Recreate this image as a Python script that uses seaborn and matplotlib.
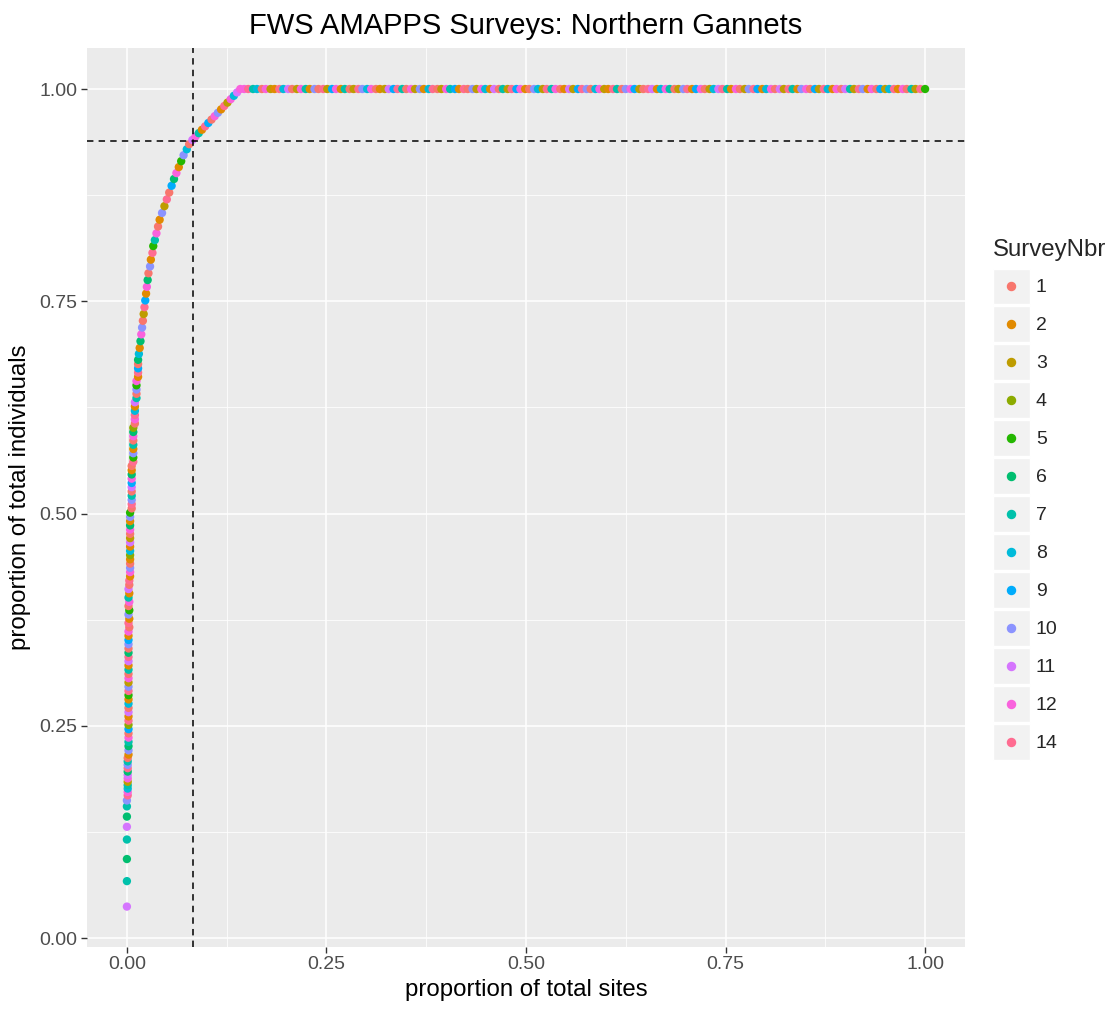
import matplotlib
matplotlib.use("Agg")
import matplotlib.pyplot as plt
from matplotlib.patches import Rectangle
from matplotlib.lines import Line2D
from matplotlib.legend_handler import HandlerTuple, HandlerLine2D
from matplotlib.ticker import MultipleLocator
import pandas as pd
import seaborn as sns

# survey levels and their ggplot hue colours
surveys = ["1", "2", "3", "4", "5", "6", "7", "8", "9", "10", "11", "12", "14"]
survey_colors = ["#F8766D", "#E18A00", "#BE9C00", "#8CAB00", "#24B700", "#00BE70", "#00C1AB",
                 "#00BBDA", "#00ACFC", "#8B93FF", "#D575FE", "#F962DD", "#FF6C91"]

# sparse low tail at x = 0
tail_x = [0.000, 0.000, 0.000, 0.000, 0.000, 0.000, 0.000, 0.000]
tail_y = [0.037, 0.067, 0.093, 0.116, 0.131, 0.143, 0.155, 0.162]
tail_s = [11, 7, 6, 7, 11, 6, 7, 10]

# steep rise near x = 0
rise_x = [0.001, 0.001, 0.001, 0.001, 0.001, 0.001, 0.001, 0.001, 0.001, 0.001, 0.001, 0.001,
          0.002, 0.002, 0.002, 0.002, 0.002, 0.002, 0.002, 0.002, 0.002, 0.002,
          0.002, 0.002, 0.002, 0.002, 0.002, 0.002, 0.002, 0.002, 0.002, 0.002,
          0.002, 0.002, 0.002, 0.002, 0.002, 0.002, 0.002, 0.002, 0.002, 0.002,
          0.003, 0.002, 0.003, 0.002, 0.003, 0.002, 0.003, 0.002, 0.003, 0.002,
          0.003, 0.003,
          0.004, 0.004, 0.004, 0.004, 0.004, 0.004, 0.004, 0.004, 0.004, 0.004, 0.004, 0.004, 0.004, 0.004, 0.004, 0.004,
          0.006, 0.006, 0.006, 0.006, 0.006, 0.006, 0.006, 0.006, 0.006, 0.006, 0.006,
          0.008, 0.008, 0.008, 0.008, 0.008, 0.008, 0.008, 0.008, 0.008,
          0.010, 0.010, 0.010, 0.010, 0.010, 0.010,
          0.012, 0.012, 0.012, 0.012, 0.012,
          0.014, 0.014, 0.014, 0.014, 0.014]
rise_y = [0.168, 0.172, 0.176, 0.180, 0.184, 0.188, 0.192, 0.196, 0.200, 0.204, 0.208, 0.212,
          0.216, 0.221, 0.226, 0.231, 0.236, 0.241, 0.246, 0.251, 0.256, 0.261,
          0.266, 0.271, 0.276, 0.281, 0.286, 0.291, 0.296, 0.301, 0.306, 0.311,
          0.316, 0.321, 0.326, 0.331, 0.336, 0.341, 0.346, 0.351, 0.356, 0.361,
          0.366, 0.371, 0.376, 0.381, 0.386, 0.391, 0.396, 0.401, 0.406, 0.411,
          0.416, 0.421,
          0.426, 0.431, 0.436, 0.441, 0.446, 0.451, 0.456, 0.461, 0.466, 0.471, 0.476, 0.481, 0.486, 0.491, 0.496, 0.501,
          0.506, 0.511, 0.516, 0.521, 0.526, 0.531, 0.536, 0.541, 0.546, 0.551, 0.556,
          0.561, 0.566, 0.571, 0.576, 0.581, 0.586, 0.591, 0.596, 0.601,
          0.606, 0.611, 0.616, 0.621, 0.626, 0.631,
          0.636, 0.641, 0.646, 0.651, 0.656,
          0.661, 0.666, 0.671, 0.676, 0.681]
rise_s = [14, 12, 8, 7, 3, 12, 11, 6, 14, 10, 7, 1,
          2, 10, 6, 7, 12, 1, 9, 4, 14, 2,
          11, 1, 8, 2, 5, 14, 10, 3, 12, 1,
          7, 2, 11, 14, 6, 1, 10, 9, 2, 12,
          1, 14, 2, 10, 5, 1, 12, 7, 2, 11,
          1, 14,
          2, 12, 10, 1, 2, 4, 8, 2, 11, 3, 1, 12, 6, 2, 10, 5,
          1, 14, 10, 7, 1, 11, 9, 12, 6, 2, 1,
          14, 5, 10, 2, 7, 1, 12, 6, 4,
          1, 12, 14, 8, 2, 11,
          7, 1, 10, 5, 12,
          2, 14, 9, 1, 6]

# bend towards the plateau
bend_x = [0.015, 0.016, 0.017, 0.018, 0.019, 0.020, 0.021, 0.022, 0.023, 0.024,
          0.025, 0.026, 0.027, 0.029, 0.030, 0.032, 0.033, 0.035, 0.037, 0.039,
          0.041, 0.044, 0.047, 0.050, 0.053, 0.056, 0.059, 0.062, 0.065, 0.068,
          0.071, 0.075, 0.078, 0.082, 0.086, 0.090, 0.094, 0.098, 0.102, 0.106,
          0.110, 0.114, 0.118, 0.122, 0.126, 0.130, 0.134, 0.138, 0.142]
bend_y = [0.688, 0.695, 0.703, 0.711, 0.719, 0.727, 0.735, 0.743, 0.751, 0.759,
          0.767, 0.775, 0.783, 0.791, 0.799, 0.807, 0.815, 0.822, 0.830, 0.838,
          0.846, 0.854, 0.862, 0.870, 0.878, 0.886, 0.894, 0.901, 0.908, 0.915,
          0.922, 0.929, 0.935, 0.940, 0.944, 0.948, 0.952, 0.956, 0.960, 0.964,
          0.968, 0.972, 0.976, 0.980, 0.984, 0.988, 0.992, 0.996, 1.000]
bend_s = [8, 2, 6, 12, 10, 1, 3, 14, 9, 2,
          12, 6, 1, 10, 2, 14, 5, 7, 12, 1,
          2, 10, 3, 14, 1, 9, 6, 12, 2, 5,
          10, 8, 1, 11, 12, 7, 2, 14, 9, 1,
          12, 10, 2, 14, 3, 12, 8, 11, 12]

# plateau at 1.00
top_x = [0.147, 0.152, 0.158, 0.163, 0.169, 0.174, 0.180, 0.185, 0.191, 0.196,
         0.202, 0.207, 0.213, 0.218, 0.224, 0.229, 0.235, 0.240, 0.246, 0.251,
         0.257, 0.262, 0.268, 0.273, 0.279, 0.284, 0.290, 0.295, 0.301, 0.306,
         0.312, 0.317, 0.323, 0.328, 0.334, 0.339, 0.345, 0.350, 0.356, 0.361,
         0.367, 0.372, 0.378, 0.383, 0.389, 0.394, 0.400, 0.405, 0.411, 0.416,
         0.422, 0.427, 0.433, 0.438, 0.444, 0.449, 0.455, 0.460, 0.466, 0.471,
         0.477, 0.482, 0.488, 0.493, 0.499, 0.504, 0.510, 0.515, 0.521, 0.526,
         0.532, 0.537, 0.543, 0.548, 0.554, 0.559, 0.565, 0.570, 0.576, 0.581,
         0.587, 0.592, 0.598, 0.603, 0.609, 0.614, 0.620, 0.625, 0.631, 0.636,
         0.642, 0.647, 0.653, 0.658, 0.664, 0.669, 0.675, 0.680, 0.686, 0.691,
         0.697, 0.702, 0.708, 0.713, 0.719, 0.724, 0.730, 0.735, 0.741, 0.746,
         0.752, 0.757, 0.763, 0.768, 0.774, 0.779, 0.785, 0.790, 0.796, 0.801,
         0.807, 0.812, 0.818, 0.823, 0.829, 0.834, 0.840, 0.845, 0.851, 0.856,
         0.862, 0.867, 0.873, 0.878, 0.884, 0.889, 0.895, 0.900, 0.906, 0.911,
         0.917, 0.922, 0.928, 0.933, 0.939, 0.944, 0.950, 0.955, 0.961, 0.966,
         0.972, 0.977, 0.983, 0.988, 0.994, 1.000]
top_y = [1.0, 1.0, 1.0, 1.0, 1.0, 1.0, 1.0, 1.0, 1.0, 1.0,
         1.0, 1.0, 1.0, 1.0, 1.0, 1.0, 1.0, 1.0, 1.0, 1.0,
         1.0, 1.0, 1.0, 1.0, 1.0, 1.0, 1.0, 1.0, 1.0, 1.0,
         1.0, 1.0, 1.0, 1.0, 1.0, 1.0, 1.0, 1.0, 1.0, 1.0,
         1.0, 1.0, 1.0, 1.0, 1.0, 1.0, 1.0, 1.0, 1.0, 1.0,
         1.0, 1.0, 1.0, 1.0, 1.0, 1.0, 1.0, 1.0, 1.0, 1.0,
         1.0, 1.0, 1.0, 1.0, 1.0, 1.0, 1.0, 1.0, 1.0, 1.0,
         1.0, 1.0, 1.0, 1.0, 1.0, 1.0, 1.0, 1.0, 1.0, 1.0,
         1.0, 1.0, 1.0, 1.0, 1.0, 1.0, 1.0, 1.0, 1.0, 1.0,
         1.0, 1.0, 1.0, 1.0, 1.0, 1.0, 1.0, 1.0, 1.0, 1.0,
         1.0, 1.0, 1.0, 1.0, 1.0, 1.0, 1.0, 1.0, 1.0, 1.0,
         1.0, 1.0, 1.0, 1.0, 1.0, 1.0, 1.0, 1.0, 1.0, 1.0,
         1.0, 1.0, 1.0, 1.0, 1.0, 1.0, 1.0, 1.0, 1.0, 1.0,
         1.0, 1.0, 1.0, 1.0, 1.0, 1.0, 1.0, 1.0, 1.0, 1.0,
         1.0, 1.0, 1.0, 1.0, 1.0, 1.0, 1.0, 1.0, 1.0, 1.0,
         1.0, 1.0, 1.0, 1.0, 1.0, 1.0]
top_s = [12, 14, 7, 8, 1, 12, 3, 2, 14, 8,
         11, 1, 3, 12, 7, 2, 10, 1, 14, 3,
         9, 12, 2, 7, 1, 3, 14, 10, 8, 12,
         1, 2, 3, 11, 9, 14, 7, 1, 12, 3,
         10, 2, 8, 14, 1, 3, 12, 7, 9, 2,
         14, 1, 10, 3, 12, 8, 2, 11, 1, 7,
         3, 14, 9, 12, 2, 1, 10, 8, 3, 14,
         7, 12, 1, 2, 11, 3, 9, 14, 10, 1,
         8, 12, 3, 2, 14, 7, 1, 10, 12, 9,
         3, 1, 14, 11, 2, 8, 12, 7, 1, 3,
         10, 14, 2, 9, 12, 1, 3, 8, 11, 14,
         7, 2, 12, 1, 3, 10, 14, 9, 2, 8,
         12, 1, 11, 3, 14, 7, 2, 10, 12, 1,
         9, 3, 14, 8, 2, 12, 1, 11, 7, 3,
         14, 10, 2, 12, 1, 9, 3, 8, 14, 2,
         12, 1, 7, 3, 14, 5]

# reference lines
cut_sites = 0.0826
cut_indiv = 0.939

df = pd.DataFrame({
    "site_prop": tail_x + rise_x + bend_x + top_x,
    "indiv_prop": tail_y + rise_y + bend_y + top_y,
    "SurveyNbr": [str(s) for s in tail_s + rise_s + bend_s + top_s],
})
palette = dict(zip(surveys, survey_colors))


class CenteredDot(HandlerLine2D):
    # put the legend dot in the middle of the grey key box
    def create_artists(self, legend, orig_handle, xdescent, ydescent, width, height, fontsize, trans):
        artists = super().create_artists(legend, orig_handle, xdescent, ydescent,
                                         width, height, fontsize, trans)
        for a in artists:
            a.set_ydata([height / 2 - ydescent] * len(a.get_ydata()))
        return artists


sns.set_theme(style="darkgrid")
plt.rcParams["font.family"] = ["Liberation Sans", "DejaVu Sans"]

W, H = 1107, 1010
fig = plt.figure(figsize=(W / 100, H / 100), dpi=100)
ax = fig.add_axes([87 / W, 1 - 947 / H, (965 - 87) / W, (947 - 48) / H])
ax.set_facecolor("#EBEBEB")

sns.scatterplot(data=df, x="site_prop", y="indiv_prop", hue="SurveyNbr", hue_order=surveys,
                palette=palette, s=36, linewidth=0, legend=False, ax=ax, zorder=3)
ax.axvline(cut_sites, color="black", lw=1.1, dashes=(4.2, 3.4), zorder=4)
ax.axhline(cut_indiv, color="black", lw=1.1, dashes=(4.2, 3.4), zorder=4)

ax.set_xlim(-0.05, 1.05)
ax.set_ylim(-0.0106, 1.0483)
ax.xaxis.set_minor_locator(MultipleLocator(0.125))
ax.yaxis.set_minor_locator(MultipleLocator(0.125))
ax.set_xticks([0, 0.25, 0.5, 0.75, 1.0])
ax.set_xticklabels(["0.00", "0.25", "0.50", "0.75", "1.00"])
ax.set_yticks([0, 0.25, 0.5, 0.75, 1.0])
ax.set_yticklabels(["0.00", "0.25", "0.50", "0.75", "1.00"])
ax.grid(True, which="major", color="white", lw=1.15, zorder=0)
ax.grid(True, which="minor", color="white", lw=0.55, zorder=0)
ax.set_axisbelow(True)
for sp in ax.spines.values():
    sp.set_visible(False)
ax.tick_params(axis="both", which="major", length=4.2, width=1.0, color="#333333",
               labelcolor="#4D4D4D", labelsize=14, pad=2.5, bottom=True, left=True)
ax.tick_params(axis="both", which="minor", length=0)

ax.set_xlabel("proportion of total sites", fontsize=17.3, color="black", labelpad=4)
ax.set_ylabel("proportion of total individuals", fontsize=17.3, color="black", labelpad=6)
ax.set_title("FWS AMAPPS Surveys: Northern Gannets", fontsize=21, color="black", pad=10)

handles = [(Rectangle((0, 0), 1, 1, facecolor="#F2F2F2", edgecolor="white", linewidth=1.0),
            Line2D([], [], marker="o", linestyle="", color=c, markersize=5.8))
           for c in survey_colors]
leg = fig.legend(handles, surveys,
                 handler_map={tuple: HandlerTuple(ndivide=1, pad=0), Line2D: CenteredDot()},
                 loc="upper left", bbox_to_anchor=(993 / W, 1 - 239 / H),
                 frameon=False, borderpad=0, borderaxespad=0, fontsize=14,
                 title="SurveyNbr", title_fontsize=17.3, alignment="left",
                 handlelength=1.9, handleheight=2.47, labelspacing=0.1,
                 handletextpad=0.3)
# wider gap between legend title and keys, as in ggplot
leg._legend_box.sep = 5.4

fig.savefig("out.png", dpi=100)
